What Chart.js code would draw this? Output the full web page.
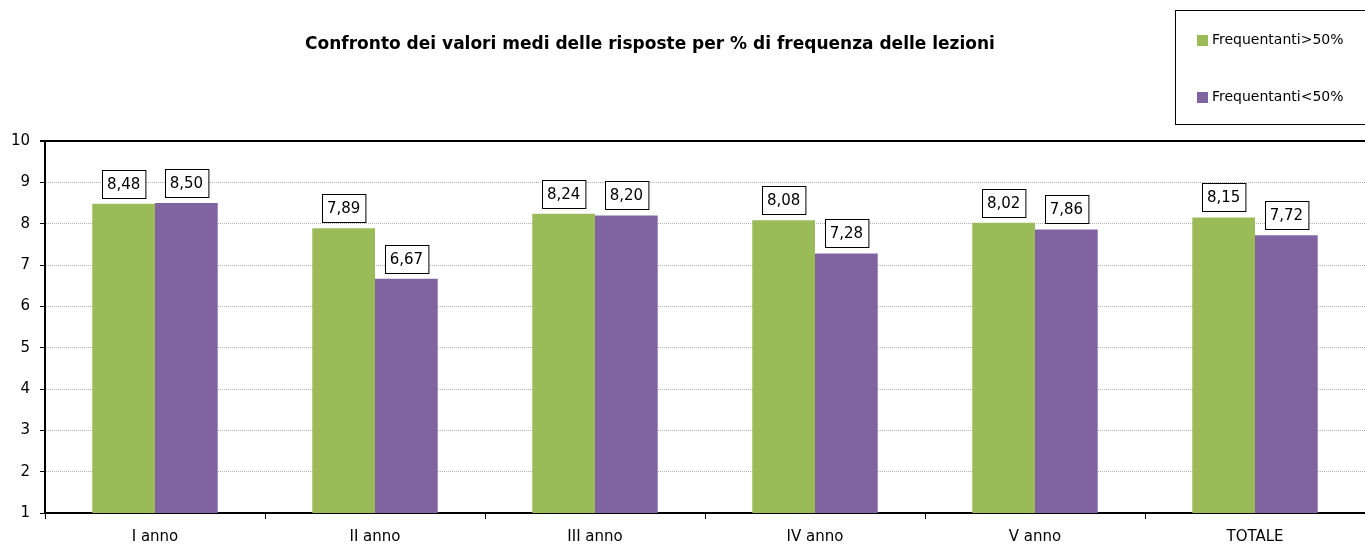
<!DOCTYPE html>
<html>
<head>
<meta charset="utf-8">
<script src="https://cdn.jsdelivr.net/npm/chart.js@4"></script>
<style>
    html, body {
        margin: 0;
        padding: 0;
        background: #ffffff;
    }
    .chart-wrap {
        position: relative;
        width: 1365px;
        height: 544px;
    }
</style>
</head>
<body>
<div class="chart-wrap"><canvas id="freqChart"></canvas></div>
<script>
const categories = ['I anno', 'II anno', 'III anno', 'IV anno', 'V anno', 'TOTALE'];
const seriesNames = ['Frequentanti>50%', 'Frequentanti<50%'];
const over50 = [8.48, 7.89, 8.24, 8.08, 8.02, 8.15];
const under50 = [8.50, 6.67, 8.20, 7.28, 7.86, 7.72];
const seriesColors = ['#9BBB59', '#8064A2'];
const chartTitle = 'Confronto dei valori medi delle risposte per % di frequenza delle lezioni';

const mainFont = 'DejaVu Sans';

// title + framed legend drawn on the canvas
const titleLegendPlugin = {
    id: 'titleLegend',
    afterDraw(chart) {
        const ctx = chart.ctx;
        ctx.save();
        ctx.fillStyle = '#000';
        ctx.font = 'bold 17px "' + mainFont + '"';
        ctx.textAlign = 'center';
        ctx.textBaseline = 'middle';
        ctx.fillText(chartTitle, 650, 45);

        // legend frame
        ctx.strokeStyle = '#000';
        ctx.lineWidth = 1;
        ctx.strokeRect(1175.5, 10.5, 200, 114);

        ctx.font = '14px "' + mainFont + '"';
        ctx.textAlign = 'left';
        const rows = [40, 97];
        chart.data.datasets.forEach((ds, i) => {
            ctx.fillStyle = ds.backgroundColor;
            ctx.fillRect(1197, rows[i] - 5, 11, 11);
            ctx.fillStyle = '#000';
            ctx.fillText(ds.label, 1212, rows[i]);
        });
        ctx.restore();
    }
};

// boxed value labels above each bar
const valueBoxPlugin = {
    id: 'valueBoxes',
    afterDatasetsDraw(chart) {
        const ctx = chart.ctx;
        ctx.save();
        ctx.font = '15px "' + mainFont + '"';
        ctx.textAlign = 'center';
        ctx.textBaseline = 'middle';
        chart.data.datasets.forEach((ds, i) => {
            chart.getDatasetMeta(i).data.forEach((bar, j) => {
                const txt = ds.data[j].toFixed(2).replace('.', ',');
                const w = ctx.measureText(txt).width + 10;
                const h = 28;
                const bottom = bar.y - 6;
                const left = Math.round(bar.x - w / 2) + 0.5;
                const top = Math.round(bottom - h) + 0.5;
                ctx.fillStyle = '#fff';
                ctx.fillRect(left, top, w, h);
                ctx.strokeStyle = '#000';
                ctx.lineWidth = 1;
                ctx.strokeRect(left, top, w, h);
                ctx.fillStyle = '#000';
                ctx.fillText(txt, bar.x, top + h / 2 + 1);
            });
        });
        ctx.restore();
    }
};

new Chart(document.getElementById('freqChart').getContext('2d'), {
    type: 'bar',
    data: {
        labels: categories,
        datasets: [
            { label: seriesNames[0], data: over50, backgroundColor: seriesColors[0] },
            { label: seriesNames[1], data: under50, backgroundColor: seriesColors[1] }
        ]
    },
    options: {
        responsive: true,
        maintainAspectRatio: false,
        animation: false,
        categoryPercentage: 0.57,
        barPercentage: 1.0,
        layout: { padding: { top: 141, right: 0, left: 0, bottom: 0 } },
        plugins: {
            legend: { display: false },
            title: { display: false },
            tooltip: { enabled: false }
        },
        scales: {
            x: {
                afterFit(scale) { scale.height = 31; },
                grid: {
                    offset: true,
                    drawOnChartArea: false,
                    drawTicks: true,
                    tickLength: 6,
                    color: '#000',
                    lineWidth: 1
                },
                border: { display: true, color: '#000', width: 2 },
                ticks: {
                    color: '#000',
                    font: { family: mainFont, size: 15 },
                    padding: 9
                }
            },
            y: {
                min: 1,
                max: 10,
                afterFit(scale) { scale.width = 45; },
                grid: {
                    color: ctx => ctx.tick && ctx.tick.value === 10 ? '#000' : '#b0b0b0',
                    lineWidth: ctx => ctx.tick && ctx.tick.value === 10 ? 2 : 1,
                    tickColor: '#000',
                    tickLength: 5
                },
                border: {
                    display: true,
                    color: '#000',
                    width: 2,
                    dash: ctx => ctx.tick && ctx.tick.value === 10 ? [] : [1, 1]
                },
                ticks: {
                    stepSize: 1,
                    color: '#000',
                    font: { family: mainFont, size: 15 },
                    padding: 10
                }
            }
        }
    },
    plugins: [titleLegendPlugin, valueBoxPlugin]
});
</script>
</body>
</html>
